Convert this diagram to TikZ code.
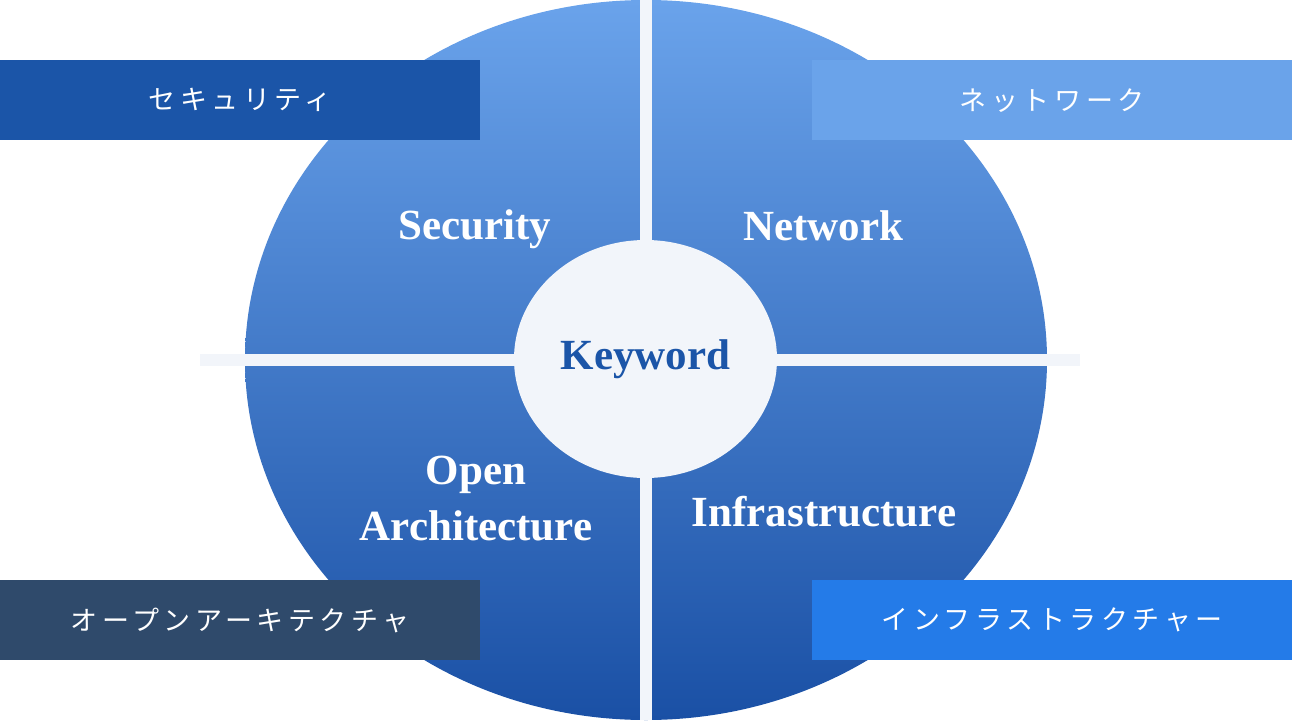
\documentclass[tikz,border=0pt]{standalone}
\usepackage{fontspec}
\setmainfont{Liberation Serif}
\newfontfamily\jp[LetterSpace=17]{Noto Sans CJK JP}
\usetikzlibrary{shapes.geometric}
\definecolor{topblue}{HTML}{6AA3EB}
\definecolor{botblue}{HTML}{1A50A5}
\definecolor{barc}{HTML}{F2F5FA}
\definecolor{keyc}{HTML}{1B55A8}
\definecolor{boxa}{HTML}{1B55A8}
\definecolor{boxb}{HTML}{6AA3EA}
\definecolor{boxc}{HTML}{2F4A6B}
\definecolor{boxd}{HTML}{247BE8}
\begin{document}
\begin{tikzpicture}[x=1pt,y=-1pt,
  lbl/.style={text=white,font=\bfseries\fontsize{43}{50}\selectfont,anchor=base,inner sep=0},
  jbox/.style={minimum width=480pt,minimum height=80pt,inner sep=0,text=white,
    font=\jp\fontsize{27}{30}\selectfont,anchor=north west}]
\useasboundingbox (0,0) rectangle (1292,720);
\node[ellipse,minimum width=802pt,minimum height=720pt,inner sep=0,
  top color=topblue,bottom color=botblue,draw=none] (big) at (646,360) {};
\fill[barc] (640,0) rectangle (652,720);
\fill[barc] (200,354) rectangle (1080,366);
\node[ellipse,minimum width=263pt,minimum height=238pt,inner sep=0,fill=barc,
  text=keyc,font=\bfseries\fontsize{43}{50}\selectfont] (key) at (645.5,359) {Keyword};
\node[lbl] (sec) at (475,239) {Security};
\node[lbl] (net) at (823,240) {Network};
\node[lbl] (open) at (476,484) {Open};
\node[lbl] (arch) at (476,540) {Architecture};
\node[lbl] (infra) at (824,526) {Infrastructure};
\node[jbox,fill=boxa] (jsec) at (0,60) {セキュリティ};
\node[jbox,fill=boxb] (jnet) at (812,60) {ネットワーク};
\node[jbox,fill=boxc] (jopen) at (0,580) {オープンアーキテクチャ};
\node[jbox,fill=boxd] (jinfra) at (812,580) {インフラストラクチャー};
\end{tikzpicture}
\end{document}
